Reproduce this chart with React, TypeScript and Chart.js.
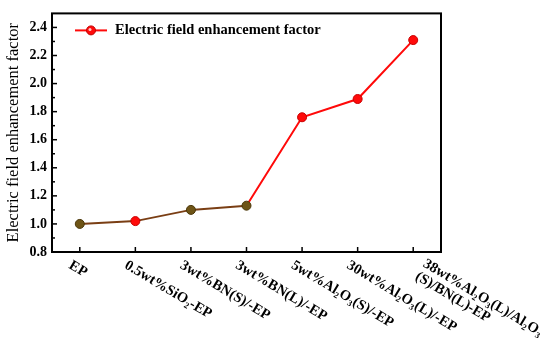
import React, { useEffect, useRef } from "react";
import { Chart, registerables } from "chart.js";

Chart.register(...registerables);

const categories: string[][] = [
  ["EP"],
  ["0.5wt%SiO₂-EP"],
  ["3wt%BN(S)/-EP"],
  ["3wt%BN(L)/-EP"],
  ["5wt%Al₂O₃(S)/-EP"],
  ["30wt%Al₂O₃(L)/-EP"],
  ["38wt%Al₂O₃(L)/Al₂O₃", "(S)/BN(L)-EP"],
];
const enhancementFactor: number[] = [1.0, 1.02, 1.1, 1.13, 1.76, 1.89, 2.31];
const yTickValues: number[] = [0.8, 1.0, 1.2, 1.4, 1.6, 1.8, 2.0, 2.2, 2.4];
const seriesLabel = "Electric field enhancement factor";
const yTitle = "Electric field enhancement factor";

const RED = "#ff0a0a";
const BROWN = "#7a3e14";
const POINT_BROWN = "#6e5416";
const FONT = "'Liberation Serif', 'Times New Roman', serif";

const framePlugin = {
  id: "frameAndTicks",
  afterDraw(chart: any) {
    const { ctx, chartArea } = chart;
    const { left, right, top, bottom } = chartArea;
    const xs = chart.scales.x;
    const ys = chart.scales.y;
    ctx.save();
    ctx.strokeStyle = "#000";
    ctx.lineWidth = 2;
    ctx.strokeRect(left, top, right - left, bottom - top);
    ctx.lineWidth = 1.5;
    for (let i = 0; i < yTickValues.length; i++) {
      const v = yTickValues[i];
      const y = ys.getPixelForValue(v);
      ctx.beginPath();
      ctx.moveTo(left, y);
      ctx.lineTo(left + 5, y);
      ctx.stroke();
      if (i < yTickValues.length - 1) {
        const ym = ys.getPixelForValue((v + yTickValues[i + 1]) / 2);
        ctx.beginPath();
        ctx.moveTo(left, ym);
        ctx.lineTo(left + 3, ym);
        ctx.stroke();
      }
    }
    for (let i = 0; i < categories.length; i++) {
      const x = xs.getPixelForValue(i);
      ctx.beginPath();
      ctx.moveTo(x, bottom);
      ctx.lineTo(x, bottom - 5);
      ctx.stroke();
    }
    const ang = (31 * Math.PI) / 180;
    ctx.fillStyle = "#000";
    ctx.font = `bold 14.5px ${FONT}`;
    ctx.textAlign = "left";
    ctx.textBaseline = "top";
    for (let i = 0; i < categories.length; i++) {
      const lines = categories[i];
      const x = xs.getPixelForValue(i);
      ctx.save();
      ctx.translate(x - 6, bottom + 6);
      ctx.rotate(ang);
      const multi = lines.length > 1;
      lines.forEach((ln, k) => {
        const dx = multi ? 17 : 0;
        const dy = multi ? -12 + k * 15 : 0;
        ctx.fillText(ln, dx, dy);
      });
      ctx.restore();
    }
    const ly = top + 17;
    const lx = left + 23;
    ctx.strokeStyle = RED;
    ctx.lineWidth = 2;
    ctx.beginPath();
    ctx.moveTo(lx, ly);
    ctx.lineTo(lx + 32, ly);
    ctx.stroke();
    ctx.beginPath();
    ctx.arc(lx + 16, ly, 4.5, 0, Math.PI * 2);
    ctx.fillStyle = RED;
    ctx.fill();
    ctx.strokeStyle = "#c00000";
    ctx.lineWidth = 1;
    ctx.stroke();
    ctx.beginPath();
    ctx.arc(lx + 15, ly - 1, 1.5, 0, Math.PI * 2);
    ctx.fillStyle = "rgba(255,220,220,0.9)";
    ctx.fill();
    ctx.fillStyle = "#000";
    ctx.font = `bold 14.5px ${FONT}`;
    ctx.textAlign = "left";
    ctx.textBaseline = "middle";
    ctx.fillText(seriesLabel, lx + 40, ly);
    ctx.restore();
  },
};

export default function App() {
  const ref = useRef<HTMLCanvasElement | null>(null);
  useEffect(() => {
    if (!ref.current) return;
    const pointColors = enhancementFactor.map((_, i) =>
      i === 1 || i > 3 ? RED : POINT_BROWN
    );
    const pointBorders = enhancementFactor.map((_, i) =>
      i === 1 || i > 3 ? "#c80000" : "#4a3608"
    );
    const chart = new Chart(ref.current, {
      type: "line",
      data: {
        labels: categories.map((c) => c.join(" ")),
        datasets: [
          {
            label: seriesLabel,
            data: enhancementFactor,
            borderColor: RED,
            borderWidth: 2,
            tension: 0,
            pointRadius: 4.5,
            pointBackgroundColor: pointColors,
            pointBorderColor: pointBorders,
            pointBorderWidth: 1,
            segment: {
              borderColor: (c: any) => (c.p1DataIndex <= 3 ? BROWN : RED),
            },
          },
        ],
      },
      options: {
        animation: false,
        responsive: false,
        maintainAspectRatio: false,
        layout: { padding: { top: 8, right: 109, bottom: 94, left: 0 } },
        plugins: {
          legend: { display: false },
          tooltip: { enabled: false },
        },
        scales: {
          x: {
            type: "category",
            offset: true,
            grid: { display: false },
            border: { display: false },
            ticks: { display: false },
            afterFit: (s: any) => {
              s.height = 0;
            },
          },
          y: {
            min: 0.8,
            max: 2.5,
            grid: { display: false, drawTicks: false },
            border: { display: false },
            afterBuildTicks: (s: any) => {
              s.ticks = yTickValues.map((v) => ({ value: v }));
            },
            ticks: {
              color: "#000",
              padding: 5,
              font: { family: FONT, size: 14, weight: "bold" },
              callback: (v: any) => Number(v).toFixed(1),
            },
            title: {
              display: true,
              text: yTitle,
              color: "#000",
              padding: { top: 4, bottom: 0 },
              font: { family: FONT, size: 16.5, weight: "normal" },
            },
            afterFit: (s: any) => {
              s.width = 52;
            },
          },
        },
      },
      plugins: [framePlugin],
    });
    return () => chart.destroy();
  }, []);
  return (
    <div style={{ position: "absolute", left: 0, top: 0, width: 550, height: 346, background: "#fff" }}>
      <canvas ref={ref} width={550} height={346} style={{ width: 550, height: 346 }} />
    </div>
  );
}
